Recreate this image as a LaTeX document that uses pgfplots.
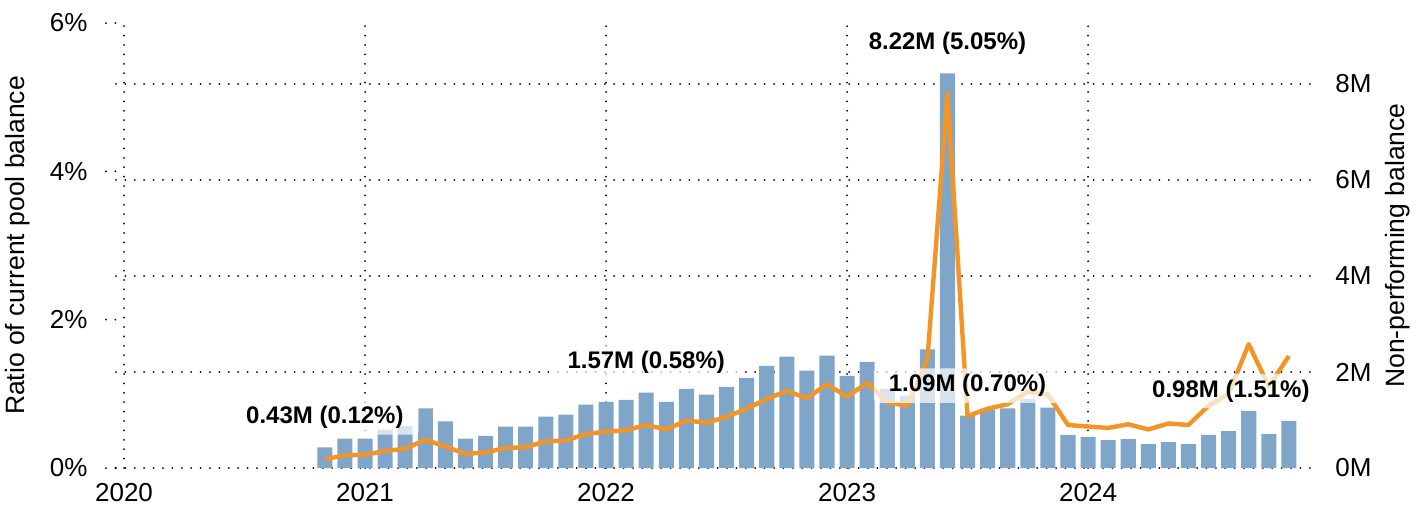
\documentclass[border=0pt]{standalone}
\usepackage{fontspec}
\setmainfont{Liberation Sans}
\usepackage{pgfplots}
\pgfplotsset{compat=1.18}
\definecolor{barblue}{HTML}{7FA6C9}
\definecolor{lineorange}{HTML}{F39426}

\begin{document}
\begin{tikzpicture}[dotline/.style={black, line width=1pt, line cap=round, dash pattern=on 0pt off 4.7pt},
  vallabel/.style={anchor=center, yshift=15pt, text=black,
    font=\bfseries\fontsize{12}{14}\selectfont,
    fill=white, fill opacity=0.7, text opacity=1,
    rounded corners=2pt, inner xsep=7.5pt, inner ysep=3pt}]
\pgfplotsset{
  base/.style={scale only axis, width=600.5pt, height=222.5pt,
    xmin=-0.4, xmax=59.4,
    /pgf/number format/assume math mode=true,
    tick label style={font=\fontsize{13}{15}\selectfont},
    label style={font=\fontsize{13.25}{16}\selectfont}},
}
% ---- bars (right axis, grids, x tick labels)
\begin{axis}[base,
  ymin=0, ymax=9.2708,
  axis x line*=bottom, axis y line*=right,
  axis line style={draw=none},
  tick style={draw=none},
  xtick={0,12,24,36,48},
  xticklabels={2020,2021,2022,2023,2024},
  xticklabel style={yshift=-4.2pt},
  ytick={0,2,4,6,8},
  yticklabels={0M,2M,4M,6M,8M},
  yticklabel style={anchor=west, xshift=5.7pt},
  xmajorgrids, ymajorgrids,
  major grid style={dotline},
  ylabel={Non-performing balance},
  ylabel style={at={(axis description cs:1.0674,0.5)}, anchor=center},
]
\addplot[ybar, bar width=0.75, fill=barblue, draw=none] coordinates {
(10,0.43) (11,0.61) (12,0.61) (13,0.80) (14,0.87) (15,1.24) (16,0.97) (17,0.61)
(18,0.67) (19,0.86) (20,0.86) (21,1.07) (22,1.11) (23,1.32) (24,1.38) (25,1.42)
(26,1.57) (27,1.38) (28,1.65) (29,1.53) (30,1.69) (31,1.88) (32,2.13) (33,2.32)
(34,2.03) (35,2.34) (36,1.92) (37,2.21) (38,1.65) (39,1.51) (40,2.47) (41,8.22)
(42,1.09) (43,1.22) (44,1.24) (45,1.44) (46,1.26) (47,0.69) (48,0.65) (49,0.58)
(50,0.60) (51,0.50) (52,0.54) (53,0.50) (54,0.69) (55,0.77) (56,1.19) (57,0.71)
(58,0.98)
};
\end{axis}
% ---- ratio line (left axis)
\begin{axis}[base,
  ymin=0, ymax=6,
  axis x line=none, axis y line*=left,
  axis line style={draw=none},
  ytick={0,2,4,6},
  yticklabels={0\%,2\%,4\%,6\%},
  tick align=outside, major tick length=5pt,
  ytick style={dotline},
  yticklabel style={anchor=east, xshift=-5.7pt},
  ylabel={Ratio of current pool balance},
  ylabel style={at={(axis description cs:-0.0816,0.5)}, anchor=center},
]
\addplot[lineorange, line width=2.2pt, line join=round, mark=none] coordinates {
(10,0.12) (11,0.17) (12,0.18) (13,0.23) (14,0.26) (15,0.38) (16,0.29) (17,0.19)
(18,0.21) (19,0.27) (20,0.28) (21,0.36) (22,0.37) (23,0.46) (24,0.49) (25,0.51)
(26,0.58) (27,0.52) (28,0.64) (29,0.61) (30,0.69) (31,0.80) (32,0.93) (33,1.04)
(34,0.94) (35,1.13) (36,0.96) (37,1.15) (38,0.88) (39,0.84) (40,1.46) (41,5.05)
(42,0.70) (43,0.80) (44,0.86) (45,1.03) (46,0.99) (47,0.58) (48,0.56) (49,0.54)
(50,0.59) (51,0.52) (52,0.60) (53,0.58) (54,0.84) (55,1.00) (56,1.67) (57,1.10)
(58,1.51)
};
\end{axis}
% ---- value labels
\begin{axis}[base, ymin=0, ymax=9.2708, hide axis, clip=false]
\addplot[draw=none, mark=none, nodes near coords, point meta=explicit symbolic,
  nodes near coords style={vallabel}]
coordinates {
(10,0.43) [0.43M (0.12\%)]
(26,1.57) [1.57M (0.58\%)]
(41,8.22) [8.22M (5.05\%)]
(42,1.09) [1.09M (0.70\%)]
};
\addplot[draw=none, mark=none, nodes near coords, point meta=explicit symbolic,
  nodes near coords style={vallabel, xshift=-29pt}]
coordinates {
(58,0.98) [0.98M (1.51\%)]
};
\end{axis}
\pgfresetboundingbox
\path[use as bounding box] (-58pt,-18.5pt) rectangle (655.5pt,234pt);
\end{tikzpicture}
\end{document}
